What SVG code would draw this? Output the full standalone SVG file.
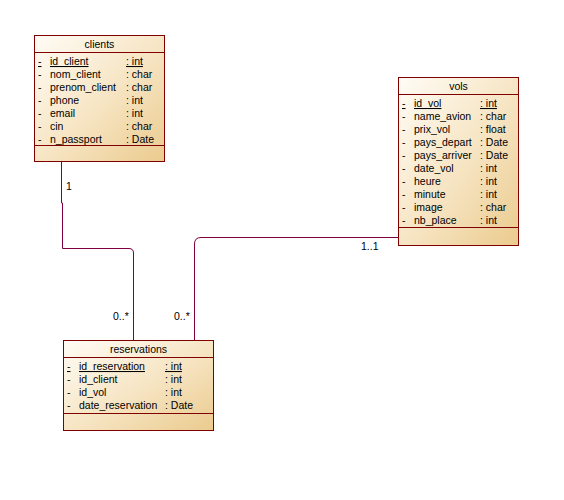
<svg xmlns="http://www.w3.org/2000/svg" width="564" height="500" viewBox="0 0 564 500">
  <style>
    .box { stroke: #800000; stroke-width: 1; }
    .sep { stroke: #800000; stroke-width: 1; }
    .t { font-family: "Liberation Sans", Arial, sans-serif; font-size: 10.5px; fill: #000; }
    .title { text-anchor: middle; }
    .u { text-decoration: underline; }
    .link { fill: none; stroke: #800040; stroke-width: 1; }
  </style>
  <defs>
    <linearGradient id="classFill" x1="0" y1="0" x2="1" y2="1">
      <stop offset="0" stop-color="#fffcf6"/>
      <stop offset="0.5" stop-color="#f7e6c6"/>
      <stop offset="1" stop-color="#ebcb8e"/>
    </linearGradient>
  </defs>
  <rect width="564" height="500" fill="#ffffff"/>

  <!-- associations -->
  <g id="connectors">
    <path class="link" d="M61.5 162 V203 H62.5 V248.5 H129 Q133.5 248.5 133.5 253 V340"/>
    <path class="link" d="M398 237.5 H201 Q194.5 237.5 194.5 244 V340"/>
    <text class="t" x="66" y="190">1</text>
    <text class="t" x="113" y="320">0..*</text>
    <text class="t" x="174" y="320">0..*</text>
    <text class="t" x="361" y="250">1..1</text>
  </g>

  <!-- clients -->
  <g id="clients">
    <rect class="box" x="34.5" y="35.5" width="130" height="126" fill="url(#classFill)"/>
    <line class="sep" x1="34.5" y1="52.5" x2="164.5" y2="52.5"/>
    <line class="sep" x1="34.5" y1="145.5" x2="164.5" y2="145.5"/>
    <text class="t title" x="99.5" y="48">clients</text>
    <text class="t u" x="38" y="65">-</text><text class="t u" x="50" y="65">id_client</text><text class="t u" x="126" y="65">: int</text>
    <text class="t" x="38" y="78">-</text><text class="t" x="50" y="78">nom_client</text><text class="t" x="126" y="78">: char</text>
    <text class="t" x="38" y="91">-</text><text class="t" x="50" y="91">prenom_client</text><text class="t" x="126" y="91">: char</text>
    <text class="t" x="38" y="104">-</text><text class="t" x="50" y="104">phone</text><text class="t" x="126" y="104">: int</text>
    <text class="t" x="38" y="117">-</text><text class="t" x="50" y="117">email</text><text class="t" x="126" y="117">: int</text>
    <text class="t" x="38" y="130">-</text><text class="t" x="50" y="130">cin</text><text class="t" x="126" y="130">: char</text>
    <text class="t" x="38" y="143">-</text><text class="t" x="50" y="143">n_passport</text><text class="t" x="126" y="143">: Date</text>
  </g>

  <!-- vols -->
  <g id="vols">
    <rect class="box" x="398.5" y="77.5" width="120" height="168" fill="url(#classFill)"/>
    <line class="sep" x1="398.5" y1="94.5" x2="518.5" y2="94.5"/>
    <line class="sep" x1="398.5" y1="227.5" x2="518.5" y2="227.5"/>
    <text class="t title" x="458.5" y="90">vols</text>
    <text class="t u" x="402" y="107">-</text><text class="t u" x="414" y="107">id_vol</text><text class="t u" x="480" y="107">: int</text>
    <text class="t" x="402" y="120">-</text><text class="t" x="414" y="120">name_avion</text><text class="t" x="480" y="120">: char</text>
    <text class="t" x="402" y="133">-</text><text class="t" x="414" y="133">prix_vol</text><text class="t" x="480" y="133">: float</text>
    <text class="t" x="402" y="146">-</text><text class="t" x="414" y="146">pays_depart</text><text class="t" x="480" y="146">: Date</text>
    <text class="t" x="402" y="159">-</text><text class="t" x="414" y="159">pays_arriver</text><text class="t" x="480" y="159">: Date</text>
    <text class="t" x="402" y="172">-</text><text class="t" x="414" y="172">date_vol</text><text class="t" x="480" y="172">: int</text>
    <text class="t" x="402" y="185">-</text><text class="t" x="414" y="185">heure</text><text class="t" x="480" y="185">: int</text>
    <text class="t" x="402" y="198">-</text><text class="t" x="414" y="198">minute</text><text class="t" x="480" y="198">: int</text>
    <text class="t" x="402" y="211">-</text><text class="t" x="414" y="211">image</text><text class="t" x="480" y="211">: char</text>
    <text class="t" x="402" y="224">-</text><text class="t" x="414" y="224">nb_place</text><text class="t" x="480" y="224">: int</text>
  </g>

  <!-- reservations -->
  <g id="reservations">
    <rect class="box" x="63.5" y="340.5" width="150" height="90" fill="url(#classFill)"/>
    <line class="sep" x1="63.5" y1="357.5" x2="213.5" y2="357.5"/>
    <line class="sep" x1="63.5" y1="413.5" x2="213.5" y2="413.5"/>
    <text class="t title" x="138.5" y="353">reservations</text>
    <text class="t u" x="67" y="370">-</text><text class="t u" x="79" y="370">id_reservation</text><text class="t u" x="165" y="370">: int</text>
    <text class="t" x="67" y="383">-</text><text class="t" x="79" y="383">id_client</text><text class="t" x="165" y="383">: int</text>
    <text class="t" x="67" y="396">-</text><text class="t" x="79" y="396">id_vol</text><text class="t" x="165" y="396">: int</text>
    <text class="t" x="67" y="409">-</text><text class="t" x="79" y="409">date_reservation</text><text class="t" x="165" y="409">: Date</text>
  </g>
</svg>
